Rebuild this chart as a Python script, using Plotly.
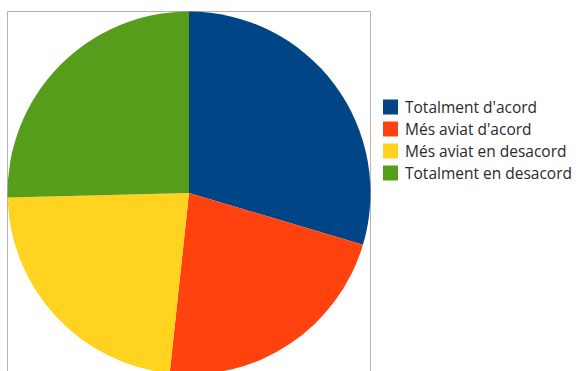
import plotly.graph_objects as go

labels = ["Totalment d'acord", "Més aviat d'acord", "Més aviat en desacord", "Totalment en desacord"]
values = [29.6, 22.1, 22.9, 25.4]
colors = ["#004586", "#ff420e", "#ffd320", "#579d1c"]

W, H = 579, 376
cx, cy, r = 189, 193, 181.5

fig = go.Figure(go.Pie(
    labels=labels, values=values, sort=False, direction="clockwise", rotation=0,
    marker=dict(colors=colors, line=dict(width=0)),
    textinfo="none", hoverinfo="label+percent", showlegend=False,
    domain=dict(x=[(cx - r) / W, (cx + r) / W], y=[1 - (cy + r) / H, 1 - (cy - r) / H]),
))

fig.add_shape(type="rect", xref="paper", yref="paper",
              x0=(cx - r) / W, x1=(cx + r) / W, y0=1 - (cy + r) / H, y1=1 - (cy - r) / H,
              line=dict(color="#b3b3b3", width=1), layer="below")

# manual legend
lx0, lx1, ltext = 383, 398, 403
row0, step, half = 107, 22, 7.5
for i, (lab, col) in enumerate(zip(labels, colors)):
    yc = row0 + i * step
    fig.add_shape(type="rect", xref="paper", yref="paper",
                  x0=lx0 / W, x1=lx1 / W, y0=1 - (yc + half) / H, y1=1 - (yc - half) / H,
                  fillcolor=col, line=dict(width=0))
    fig.add_annotation(xref="paper", yref="paper", x=ltext / W, y=1 - yc / H,
                       xanchor="left", yanchor="middle", text=lab, showarrow=False,
                       font=dict(family="Open Sans", size=15.5, color="#2a2a2a"))

fig.update_layout(
    width=W, height=H, margin=dict(l=0, r=0, t=0, b=0),
    paper_bgcolor="white", plot_bgcolor="white",
    font=dict(family="Open Sans", color="#2a2a2a"),
)

fig.write_html("out.html", config={"displayModeBar": False},
               post_script="document.documentElement.style.overflow='hidden';document.body.style.overflow='hidden';document.body.style.margin='0';")
